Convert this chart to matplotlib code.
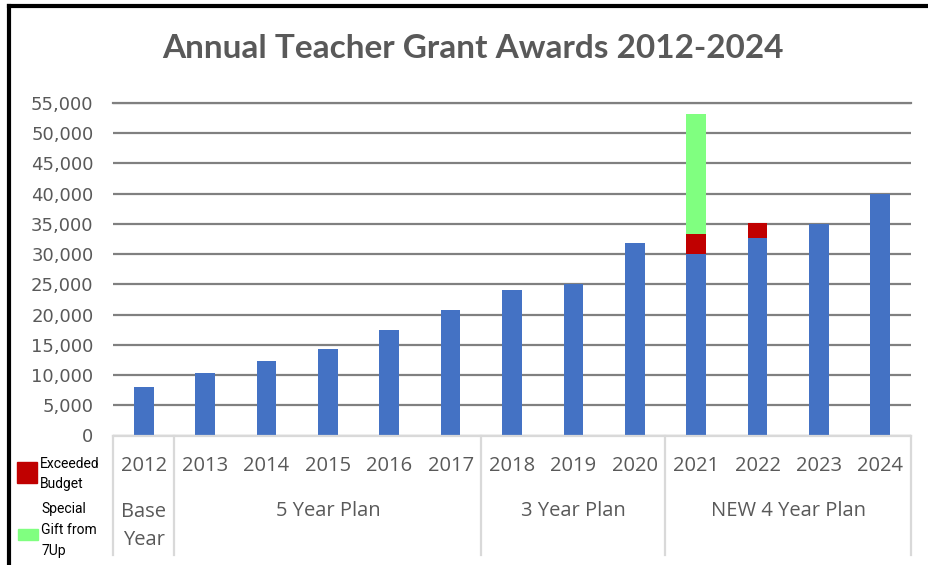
import numpy as np
import matplotlib
matplotlib.use("Agg")
import matplotlib.pyplot as plt
from matplotlib.patches import Rectangle
from matplotlib.lines import Line2D
from matplotlib.ticker import FuncFormatter

years = ['2012', '2013', '2014', '2015', '2016', '2017', '2018',
         '2019', '2020', '2021', '2022', '2023', '2024']
base = [8000, 10400, 12400, 14300, 17500, 20800, 24000,
        25100, 31800, 30000, 32600, 35000, 40000]
exceeded = [0, 0, 0, 0, 0, 0, 0, 0, 0, 3400, 2600, 0, 0]
gift = [0, 0, 0, 0, 0, 0, 0, 0, 0, 19700, 0, 0, 0]

# plan groups: (label, first index, last index)
groups = [('Base\nYear', 0, 0), ('5 Year Plan', 1, 5),
          ('3 Year Plan', 6, 8), ('NEW 4 Year Plan', 9, 12)]

blue = '#4472C4'
red = '#C00000'
green = '#80FF80'
grey_txt = '#595959'

W, H = 929, 565
fig = plt.figure(figsize=(W / 100, H / 100), dpi=100)
ax = fig.add_axes([113 / W, (H - 435.5) / H, (911 - 113) / W, (435.5 - 103) / H])

x = np.arange(len(years))
base = np.array(base)
exceeded = np.array(exceeded)
gift = np.array(gift)
bw = 0.32
ax.bar(x, base, bw, color=blue, zorder=3)
ax.bar(x, exceeded, bw, bottom=base, color=red, zorder=3)
ax.bar(x, gift, bw, bottom=base + exceeded, color=green, zorder=3)

ax.set_xlim(-0.5, len(years) - 0.5)
ax.set_ylim(0, 55000)
ax.set_yticks(np.arange(0, 55001, 5000))
ax.yaxis.set_major_formatter(FuncFormatter(lambda v, p: f'{int(v):,}'))
ax.tick_params(axis='y', length=0, pad=14, labelsize=13, labelcolor=grey_txt)
ax.set_xticks([])

ax.grid(axis='y', color='#808080', lw=1.6, zorder=0)
for s in ['top', 'right', 'left']:
    ax.spines[s].set_visible(False)
ax.spines['bottom'].set_color('#D9D9D9')
ax.spines['bottom'].set_linewidth(1.6)
ax.spines['bottom'].set_zorder(4)

# gridline at the top edge
ax.axhline(55000, color='#808080', lw=1.6, clip_on=False, zorder=0)

trans = ax.get_xaxis_transform()
ph = 435.5 - 103
def yfrac(py):
    return (435.5 - py) / ph

# year labels
for i, yr in enumerate(years):
    ax.text(i, yfrac(466), yr, transform=trans, ha='center', va='center',
            fontsize=14.5, color=grey_txt, family='Open Sans')

# group labels and separators
seps = [-0.5]
for name, a, b in groups:
    ax.text((a + b) / 2, yfrac(526 if '\n' in name else 511), name, transform=trans,
            ha='center', va='center', fontsize=14.5, color=grey_txt,
            family='Open Sans', linespacing=1.55)
    seps.append(b + 0.5)
for s in seps:
    ax.plot([s, s], [0, yfrac(555)], transform=trans, color='#D9D9D9',
            lw=1.6, clip_on=False)

# title
fig.text(473 / W, 1 - 49 / H, 'Annual Teacher Grant Awards 2012-2024', ha='center',
         va='center', fontsize=24, fontweight='bold', color=grey_txt,
         family='Lato')

# legend boxes drawn by hand on the left
fig.patches.append(Rectangle((17 / W, 1 - 483 / H), 20 / W, 21 / H,
                             transform=fig.transFigure, color=red))
fig.patches.append(Rectangle((18 / W, 1 - 540 / H), 20 / W, 11 / H,
                             transform=fig.transFigure, color=green))
fig.text(40 / W, 1 - 474 / H, 'Exceeded\nBudget', ha='left', va='center',
         fontsize=10, color='black', linespacing=1.6, family='Roboto')
fig.text(41 / W, 1 - 530 / H, 'Special\nGift from\n7Up', ha='left', va='center',
         fontsize=10, color='black', linespacing=1.6, family='Roboto')

# frame on the top and left edges
fig.lines.append(Line2D([9 / W, 1], [1 - 5.5 / H, 1 - 5.5 / H],
                        transform=fig.transFigure, color='black', lw=3))
fig.lines.append(Line2D([9 / W, 9 / W], [0, 1 - 5.5 / H],
                        transform=fig.transFigure, color='black', lw=3))

fig.savefig('out.png', dpi=100)
